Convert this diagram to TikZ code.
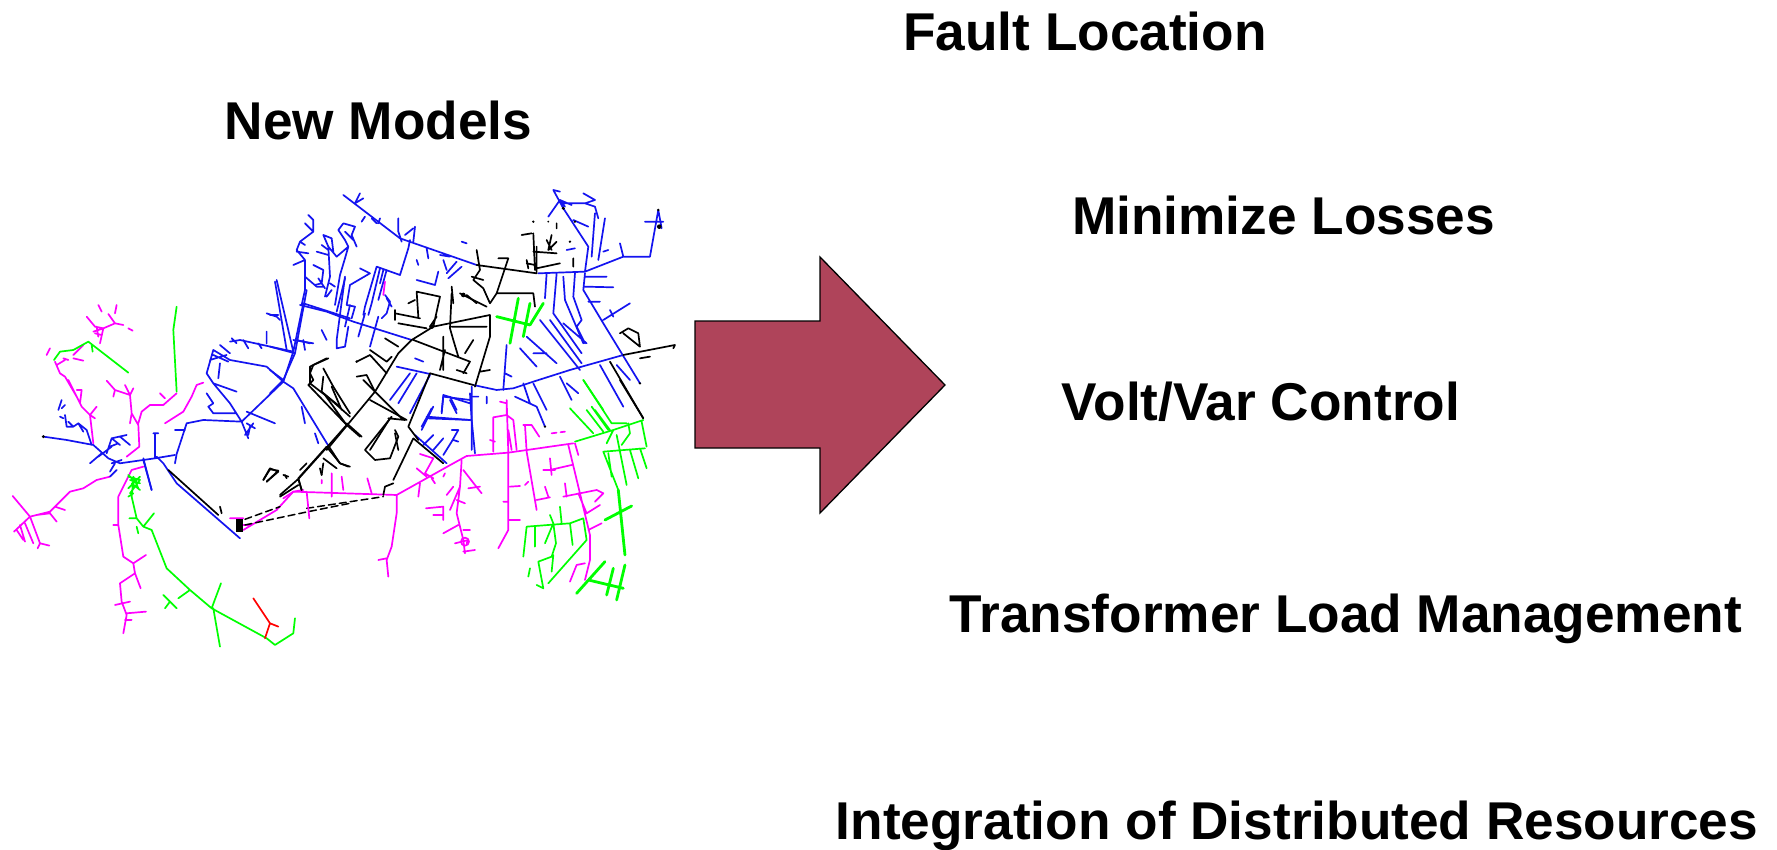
\documentclass[tikz,border=0pt]{standalone}
\usepackage{fontspec}
\setmainfont{Liberation Sans}
\definecolor{arrowred}{HTML}{AF445A}
\tikzset{
  lbl/.style={font=\fontsize{53.2}{60}\selectfont\bfseries,text=black,inner sep=0pt,anchor=center},
  wire/.style={line width=1.7pt,line cap=round,line join=round},
  mg/.style={wire,draw={rgb,255:red,255;green,0;blue,255}},
  gr/.style={wire,draw={rgb,255:red,0;green,255;blue,0}},
  grt/.style={gr,line width=2.8pt},
  bl/.style={wire,draw={rgb,255:red,20;green,20;blue,240}},
  bk/.style={wire,draw=black},
  rd/.style={wire,draw=red},
  za/.style={shift={(0,280)},x=0.3333pt,y=-0.3333pt},
  zb/.style={shift={(270,170)},x=0.3333pt,y=-0.3333pt},
  zc/.style={shift={(250,380)},x=0.3333pt,y=-0.3333pt},
  zd/.style={shift={(280,190)},x=0.3333pt,y=-0.3333pt},
  ze/.style={shift={(40,290)},x=0.3333pt,y=-0.3333pt},
}
\begin{document}
\begin{tikzpicture}[x=1pt,y=-1pt]
\useasboundingbox (0,0) rectangle (1777,850);
\fill[white] (0,0) rectangle (1777,850);
\begin{scope}[za]
\draw[mg] (330,590)--(290,600)--(250,625)--(210,635)--(150,695)--(90,710)--(38,648) (90,710)--(42,755) (90,710)--(120,790)--(148,797) (120,790)--(113,805) (110,705)--(150,700)--(170,725) (165,680)--(195,690) (60,735)--(75,785) (75,730)--(100,790) (50,750)--(70,780);
\draw[mg] (430,560)--(395,570)--(380,600)--(355,650)--(355,735)--(370,830)--(400,850)--(405,880)--(360,910)--(365,965)--(380,1005)--(370,1060) (400,850)--(438,825) (405,880)--(422,925) (380,1000)--(438,995) (340,735)--(355,735) (345,975)--(390,965) (375,1020)--(395,1020);
\draw[mg] (690,715)--(730,715) (725,735)--(755,735)--(830,690)--(880,635)--(910,630) (730,750)--(755,735) (495,430)--(550,395)--(575,350)--(590,315)--(610,308);
\draw[gr] (385,585)--(400,600)--(395,650)--(410,715)--(430,740)--(455,750)--(500,865)--(570,930)--(635,985)--(800,1075)--(825,1095)--(880,1060)--(885,1015) (430,740)--(462,700) (388,715)--(410,715) (410,740)--(415,760) (400,590)--(415,625) (385,625)--(420,590) (385,650)--(400,640) (390,600)--(420,610) (570,930)--(535,955) (490,945)--(530,985) (495,985)--(510,965) (635,985)--(663,910) (640,985)--(660,1100) (385,590)--(420,600)--(390,640) (395,610)--(420,630);
\draw[rd] (760,955)--(810,1030)--(795,1075) (810,1030)--(835,1040);
\draw[bl] (470,530)--(490,550)--(530,610)--(720,775) (525,450)--(555,450) (530,522)--(525,550) (430,540)--(455,630) (350,570)--(330,590) (530,522)--(560,430)--(610,420)--(725,425)--(850,305)--(880,215)--(910,70)--(1050,115) (725,425)--(690,370)--(640,310)--(620,280)--(640,210)--(690,240)--(800,260)--(850,305) (850,305)--(880,325)--(985,497) (690,185)--(720,180)--(880,215) (880,215)--(830,0) (800,100)--(830,110)--(840,120) (740,395)--(825,430) (725,425)--(745,475) (760,430)--(735,465) (640,310)--(710,335) (620,340)--(640,370)--(625,380)--(640,400)--(710,400) (660,250)--(655,295) (880,180)--(940,190) (800,155)--(800,190) (910,180)--(915,210) (905,380)--(915,430) (945,460)--(955,490) (740,430)--(765,445) (750,440)--(745,465) (640,225)--(685,245) (630,240)--(680,225) (660,195)--(690,220) (695,175)--(710,190) (730,180)--(745,205) (775,190)--(785,205);
\draw[bk] (505,570)--(655,705) (660,680)--(665,700) (985,497)--(1040,435) (985,497)--(895,597)--(840,645) (985,497)--(1020,550)--(1050,560) (1040,435)--(975,345)--(930,310)--(930,260)--(980,235) (970,265)--(1000,320)--(1050,400) (970,340)--(1020,380) (1000,380)--(1020,410) (895,597)--(905,630) (900,570)--(920,550) (965,585)--(970,550) (790,600)--(810,565)--(835,575)--(800,605) (855,585)--(860,595);
\fill[black] (707,718) rectangle (730,755);
\draw[bk,dash pattern=on 7pt off 4pt,line width=1.5pt] (735,735)--(925,695)--(1050,670);
\draw[bk,dash pattern=on 7pt off 4pt,line width=1.5pt] (735,718)--(840,680);
\end{scope}
\begin{scope}[ze]
\draw[mg] (160,125)--(190,115)--(180,160) (165,130)--(185,135) (140,80)--(165,110)--(190,115) (175,45)--(185,65) (230,45)--(225,70) (205,72)--(225,100)--(190,115) (225,100)--(250,105) (265,115)--(278,122) (170,110)--(175,140) (70,205)--(85,210) (100,205)--(130,212) (130,165)--(100,195) (30,175)--(20,195) (45,215)--(60,250)--(75,260)--(110,320)--(125,350)--(150,375)--(160,460) (75,210)--(50,225) (85,270)--(115,330) (110,300)--(125,300)--(120,340) (150,375)--(170,350) (150,375)--(165,385) (200,272)--(225,300)--(220,320) (225,300)--(270,315)--(255,285) (280,295)--(270,315)--(275,370)--(295,405)--(298,470)--(260,500) (275,370)--(270,400) (295,400)--(305,365)--(330,345)--(370,345)--(410,310) (360,310)--(375,325) (370,345)--(330,345);
\draw[gr] (410,50)--(400,120)--(410,305) (265,248)--(145,155)--(100,180)--(60,185)--(42,210) (155,165)--(158,185);
\draw[bl] (10,440)--(80,450)--(160,465)--(205,505)--(240,520)--(345,505)--(405,495) (345,505)--(345,430) (340,430)--(355,430) (65,330)--(55,360) (75,345)--(65,355) (60,380)--(70,385) (75,375)--(80,410)--(100,410)--(115,400)--(130,425) (115,400)--(140,420)--(155,465) (85,395)--(100,410) (200,490)--(215,445)--(260,435) (215,445)--(240,465) (240,440)--(270,465) (210,470)--(235,460) (175,500)--(215,470) (150,520)--(185,490) (215,520)--(245,510) (310,505)--(335,600) (210,545)--(225,520);
\fill[black] (10,440) circle[radius=5];
\end{scope}
\begin{scope}[zc]
\draw[bk,dash pattern=on 7pt off 4pt,line width=1.5pt] (170,385)--(400,350);
\draw[mg] (100,355)--(130,335)--(440,345)--(610,250)--(650,228)--(775,218)--(970,190) (170,335)--(178,415) (245,280)--(245,350) (215,300)--(215,310) (275,290)--(280,330) (352,295)--(365,340) (440,345)--(440,400)--(425,500)--(410,540)--(415,590) (385,540)--(410,535) (510,310)--(505,350) (510,222)--(550,235)--(525,280)--(550,295) (500,265)--(530,290) (545,295)--(555,310) (580,290)--(585,280) (635,240)--(630,320)--(600,390) (630,320)--(620,400)--(640,480) (620,360)--(645,370) (640,270)--(675,315)--(695,340) (655,325)--(690,320) (610,320)--(590,345) (528,385)--(580,380)--(580,420) (550,405)--(580,405) (580,460)--(625,435) (640,480)--(645,520) (615,490)--(655,480)--(650,490) (640,515)--(675,510) (640,450)--(660,450);
\draw[mg] (645,485) circle[radius=12];
\draw[mg] (775,218)--(775,450)--(745,505) (775,420)--(810,420) (760,365)--(775,365) (780,320)--(810,318) (825,315)--(835,305) (770,60)--(775,218) (750,65)--(770,70)--(770,105)--(730,112)--(730,215) (720,180)--(735,185) (770,105)--(790,120)--(800,210) (775,150)--(785,210) (820,135)--(845,135)--(868,170) (825,135)--(830,215)--(860,390) (860,360)--(900,352) (885,320)--(895,350) (900,270)--(965,255) (900,235)--(905,285) (880,270)--(915,270) (955,195)--(1020,465)--(1020,540)--(1005,600) (975,190)--(985,225) (940,350)--(1040,330)--(1060,340)--(1035,365) (945,310)--(950,350) (985,340)--(1010,400)--(1050,375) (1015,450)--(1055,430) (1005,550)--(980,555)--(960,605);
\draw[mg,dash pattern=on 5pt off 4pt] (905,160)--(945,155);
\draw[gr] (975,185)--(1090,150)--(1180,120) (1090,150)--(1070,190) (1060,215)--(1185,205) (820,530)--(830,440)--(960,430)--(1000,415)--(1010,480) (855,440)--(855,500) (885,490)--(910,430)--(918,490)--(905,530)--(865,545)--(880,625)--(860,615) (960,430)--(968,495) (930,380)--(935,430) (900,405)--(910,430) (1010,480)--(895,610) (835,590)--(840,565) (910,525)--(905,575) (960,85)--(1030,160) (1010,90)--(1060,155) (1000,0)--(1085,130)--(1130,130) (1035,90)--(1080,150) (1175,125)--(1190,200) (1135,130)--(1140,160)--(1115,195) (1075,220)--(1085,290) (1060,215)--(1105,330) (1100,165)--(1130,315) (1140,210)--(1165,295) (1170,205)--(1190,265);
\draw[grt] (1065,420)--(1145,378) (1105,330)--(1125,525) (980,640)--(1065,545) (1015,600)--(1120,625) (1070,645)--(1090,565) (1100,660)--(1125,555);
\draw[bl] (495,165)--(590,250) (530,110)--(660,120) (545,85)--(515,140) (575,100)--(580,45)--(660,70) (600,60)--(620,100) (550,165)--(520,195) (580,175)--(550,210) (605,150)--(625,150)--(605,185)--(580,225) (610,180)--(625,185) (660,40)--(665,120)--(675,220) (515,140)--(530,115);
\draw[bk] (400,345)--(405,320)--(430,310) (430,300)--(490,175) (490,175)--(580,250) (145,295)--(230,200) (230,200)--(270,250)--(295,260) (220,235)--(260,265) (210,265)--(215,285) (40,300)--(60,268)--(85,272)--(50,305) (100,285)--(115,290) (145,295)--(155,330) (90,350)--(145,315) (345,210)--(375,240)--(420,235)--(445,170)--(435,150) (345,210)--(425,110) (415,115)--(465,120) (290,130)--(335,170) (340,0)--(460,120) (1110,0)--(1180,115);
\end{scope}
\begin{scope}[zd]
\draw[bl] (225,40)--(240,10) (225,40)--(250,25) (245,95)--(255,80) (275,85)--(290,100) (300,85)--(295,100) (355,85)--(355,125)--(365,155) (400,115)--(375,135);
\draw[bl] (85,75)--(100,90)--(100,125)--(75,100) (100,125)--(60,155)--(50,180)--(75,210)--(40,225) (60,155)--(75,165) (50,185)--(85,190) (75,210)--(75,300)--(65,345) (75,260)--(110,290)--(130,290);
\draw[bl] (130,135)--(145,170)--(170,200)--(205,170)--(195,205)--(180,255)--(165,345) (130,135)--(155,145)--(160,185) (110,185)--(145,195) (125,165)--(145,180) (145,170)--(150,260)--(135,320) (100,225)--(130,240)--(125,280)--(105,285) (115,265)--(135,295) (150,280)--(165,290) (155,300)--(140,320);
\draw[bl] (190,100)--(175,120)--(195,150)--(205,170) (190,100)--(225,110)--(215,135)--(230,170) (195,125)--(220,150) (195,265)--(170,365) (240,235)--(270,250)--(210,285)--(200,345)--(225,350)--(215,385) (290,230)--(360,255)--(385,175)--(390,150) (290,230)--(255,350)--(250,375) (300,235)--(275,340)--(265,375) (320,240)--(295,330) (310,240)--(300,280) (315,315)--(330,335)--(320,370)--(305,385);
\end{scope}
\begin{scope}[zb]
\draw[bl] (0,530)--(75,550)--(40,630)--(0,670) (40,630)--(0,600) (15,335)--(50,540) (75,550)--(110,360) (90,405)--(170,425)--(250,455)--(425,510) (220,75)--(390,205)--(620,285) (240,405)--(225,470) (325,440)--(300,530) (155,480)--(170,510) (120,520)--(80,510) (25,435)--(0,435) (225,320)--(200,510)--(200,535)--(225,530)--(235,470) (285,430)--(265,500) (350,385)--(365,410) (435,170)--(430,215) (470,235)--(475,265) (510,255)--(540,260) (575,215)--(590,220) (530,310)--(560,275) (535,325)--(575,290) (440,330)--(495,345)--(505,305) (440,270)--(445,285) (520,270)--(530,300);
\draw[bl] (805,310)--(945,305)--(1060,260)--(1140,260)--(1165,120) (945,305)--(955,230)--(880,115)--(850,60) (1005,145)--(985,270) (975,130)--(965,260) (880,100)--(945,100)--(975,90)--(940,70) (835,140)--(870,90)--(885,110) (910,150)--(955,170) (1050,220)--(1060,260) (1125,155)--(1180,155) (1165,120)--(1175,175) (1000,245)--(1015,240) (850,60)--(870,65) (945,100)--(975,110)--(985,145) (890,240)--(915,235) (870,90)--(905,105);
\draw[bl] (830,310)--(825,385) (860,310)--(850,430)--(935,550) (880,320)--(885,390)--(940,520) (915,310)--(910,380)--(935,450)--(920,470)--(945,520) (945,310)--(940,360)--(1000,460)--(1110,640) (945,320)--(1010,320) (945,350)--(1030,352) (955,395)--(990,395) (1000,450)--(1080,400) (1020,420)--(1030,440) (810,450)--(930,600) (840,450)--(935,580) (880,460)--(950,520) (770,500)--(860,580) (750,535)--(800,590) (790,550)--(830,550) (990,585)--(1060,710) (1040,585)--(1080,630) (710,525)--(700,660) (705,610)--(725,620) (790,640)--(830,720) (760,640)--(780,700) (735,680)--(800,710)--(825,770) (870,620)--(905,690) (890,640)--(925,670);
\draw[bl] (610,645)--(680,660)--(730,655)--(790,635)--(900,600)--(1060,555) (605,650)--(605,840) (470,745)--(600,750) (520,680)--(515,725) (520,680)--(600,690) (540,680)--(560,720) (490,710)--(455,780) (360,690)--(420,610) (385,700)--(440,610) (420,730)--(480,615) (380,590)--(480,612) (435,565)--(460,575) (610,680)--(625,680) (650,680)--(650,700);
\draw[bk] (170,840)--(315,665)--(385,550)--(425,510)--(490,470)--(660,435) (660,435)--(660,500)--(615,650) (480,610)--(610,645) (660,400)--(680,370)--(700,310)--(715,265) (685,265)--(715,265) (620,285)--(800,310)--(800,230) (790,245)--(860,250) (800,295)--(870,280) (680,370)--(790,370)--(795,410) (790,190)--(795,300) (770,280)--(795,285) (375,420)--(375,450) (375,430)--(450,445) (385,460)--(470,475) (440,365)--(445,440) (440,365)--(510,380)--(490,470) (415,400)--(435,390) (545,370)--(540,475)--(550,510)--(565,560) (570,370)--(610,390)--(650,410) (545,470)--(650,470) (480,470)--(500,440) (520,500)--(520,600) (510,600)--(525,540) (430,510)--(600,575)--(580,610) (560,600)--(590,610) (610,510)--(585,550) (660,600)--(630,605) (620,240)--(630,300)--(610,330)--(640,355) (785,190)--(755,195) (835,240)--(860,215) (860,160)--(860,175) (910,265)--(910,290) (605,320)--(640,330) (640,355)--(660,400) (830,210)--(845,240) (845,195)--(835,240) (770,270)--(775,295);
\draw[bk] (175,565)--(130,585)--(120,610)--(130,630)--(115,645)--(230,765)--(270,800) (160,620)--(155,665)--(240,740) (185,650)--(215,720) (300,690)--(410,750) (260,575)--(300,555)--(350,610) (260,620)--(290,615)--(315,665) (300,540)--(350,575)--(365,560) (345,505)--(385,530) (415,770)--(480,610) (415,770)--(445,810) (360,745)--(300,840) (375,790)--(385,840) (1050,490)--(1075,475)--(1105,490)--(1110,530)--(1060,490) (1060,555)--(1215,525)--(1210,535) (1110,565)--(1140,560) (1020,575)--(1120,745) (545,350)--(550,400) (590,375)--(620,400);
\fill[black] (1110,640) circle[radius=4] (825,770) circle[radius=4] (880,115) circle[radius=5] (915,155) circle[radius=4] (1165,120) circle[radius=4] (1168,170) circle[radius=7] (790,155) circle[radius=4] (835,155) circle[radius=3] (900,215) circle[radius=4] (485,470) circle[radius=7] (580,375) circle[radius=7] (260,575) circle[radius=4];
\draw[grt] (680,440)--(780,465) (745,385)--(720,520) (780,400)--(760,500) (820,400)--(780,465);
\draw[gr] (940,630)--(1000,720) (965,710)--(1015,780);
\draw[mg] (345,335)--(340,375);
\end{scope}
\draw[black,fill=arrowred,line width=1.3pt,line join=miter] (695,321)--(820,321)--(820,257)--(945,385)--(820,513)--(820,448)--(695,448)--cycle;
\node[lbl] (fault) at (1085,31) {Fault Location};
\node[lbl] (models) at (378.5,120) {New Models};
\node[lbl] (losses) at (1283.5,215) {Minimize Losses};
\node[lbl] (volt) at (1261,402) {Volt/Var Control};
\node[lbl] (trans) at (1346,619) {Transformer Load Management};
\node[lbl] (integ) at (1297,826) {Integration of Distributed Resources};
\end{tikzpicture}
\end{document}
